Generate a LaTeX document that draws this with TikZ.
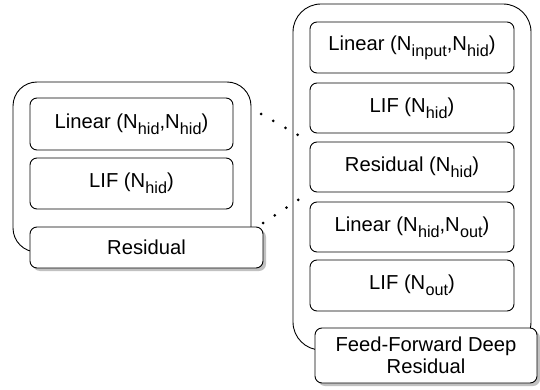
\documentclass[tikz,border=0pt]{standalone}
\usepackage{fontspec}
\setmainfont{Liberation Sans}
\usetikzlibrary{shadows}
% neuron count with a lowered, smaller subscript
\newcommand{\nsub}[1]{N\kern0.2pt\raisebox{-0.3em}{\fontsize{16.2}{17}\selectfont #1}}

\begin{document}
\begin{tikzpicture}[x=1pt,y=-1pt,
  font=\fontsize{20.2}{22}\selectfont,
  frame/.style={draw=black, line width=0.9pt, rounded corners=24pt, fill=white, inner sep=0pt},
  layer/.style={draw=black, line width=0.9pt, rounded corners=7pt, fill=white, inner sep=0pt, text=black},
  tag/.style={layer, align=center,
    drop shadow={shadow xshift=3pt, shadow yshift=-3pt, fill=black!40, opacity=0.6}},
  link/.style={line width=3pt, line cap=round, dash pattern=on 0pt off 14.05pt}
]
\fill[white] (0,0) rectangle (540,390);
\useasboundingbox (0,0) rectangle (540,390);

% residual block (left)
\node[frame, minimum width=238pt, minimum height=170pt] (blockL) at (132,167) {};
\node[layer, minimum width=203pt, minimum height=52pt] (linL) at (131.5,124) {Linear (\nsub{hid},\nsub{hid})};
\node[layer, minimum width=203pt, minimum height=51pt] (lifL) at (131.5,183.5) {LIF (\nsub{hid})};
\node[tag, minimum width=233pt, minimum height=41pt] (tagL) at (146.5,247.5) {Residual};

% feed-forward deep residual network (right)
\node[frame, rounded corners=28pt, minimum width=238pt, minimum height=346pt] (blockR) at (412,177) {};
\node[layer, minimum width=204pt, minimum height=51pt] (lin1) at (412,47.5) {Linear (\nsub{input},\nsub{hid})};
\node[layer, minimum width=204pt, minimum height=50pt] (lif1) at (412,108) {LIF (\nsub{hid})};
\node[layer, minimum width=204pt, minimum height=50pt] (resR) at (412,167) {Residual (\nsub{hid})};
\node[layer, minimum width=204pt, minimum height=50pt] (lin2) at (412,227) {Linear (\nsub{hid},\nsub{out})};
\node[layer, minimum width=204pt, minimum height=51pt] (lif2) at (412,285.5) {LIF (\nsub{out})};
\node[tag, minimum width=222pt, minimum height=55pt] (tagR) at (426,355.5) {Feed-Forward Deep\\Residual};

% dotted expansion lines
\coordinate (dA) at (261,114);
\coordinate (dB) at (263,223);
\draw[link] (dA) -- (resR.north west);
\draw[link] (dB) -- (resR.south west);
\end{tikzpicture}
\end{document}
